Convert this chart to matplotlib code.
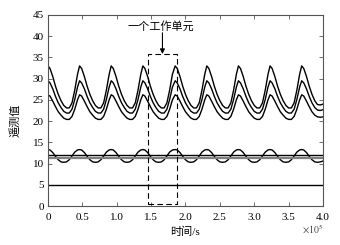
import matplotlib
matplotlib.use("Agg")
import matplotlib.pyplot as plt

# time axis in units of 1e5 s, shared by the four periodic curves
time = [
    0.00, 0.03, 0.07, 0.11, 0.15, 0.19, 0.23, 0.27, 0.31, 0.35, 0.39, 0.43,
    0.46, 0.49, 0.53, 0.57, 0.61, 0.65, 0.69, 0.73, 0.77, 0.81, 0.85, 0.89,
    0.92, 0.95, 0.99, 1.03, 1.07, 1.11, 1.15, 1.19, 1.23, 1.27, 1.31, 1.35,
    1.38, 1.41, 1.45, 1.49, 1.53, 1.57, 1.61, 1.65, 1.69, 1.73, 1.77, 1.81,
    1.85, 1.88, 1.92, 1.96, 2.00, 2.04, 2.08, 2.12, 2.16, 2.20, 2.24, 2.28,
    2.31, 2.34, 2.38, 2.42, 2.46, 2.50, 2.54, 2.58, 2.62, 2.66, 2.70, 2.74,
    2.77, 2.80, 2.84, 2.88, 2.92, 2.96, 3.00, 3.04, 3.08, 3.12, 3.16, 3.20,
    3.23, 3.26, 3.30, 3.34, 3.38, 3.42, 3.46, 3.50, 3.54, 3.58, 3.62, 3.66,
    3.69, 3.72, 3.76, 3.80, 3.84, 3.88, 3.92, 3.96, 4.00,
]

upper = [
    33.0, 32.4, 30.5, 28.2, 26.3, 24.8, 23.7, 23.1, 23.1, 24.3, 27.3, 31.0,
    33.0, 32.4, 30.5, 28.2, 26.3, 24.8, 23.7, 23.1, 23.1, 24.3, 27.3, 31.0,
    33.0, 32.4, 30.5, 28.2, 26.3, 24.8, 23.7, 23.1, 23.1, 24.3, 27.3, 31.0,
    33.0, 32.4, 30.5, 28.2, 26.3, 24.8, 23.7, 23.1, 23.1, 24.3, 27.3, 31.0,
    33.0, 32.4, 30.5, 28.2, 26.3, 24.8, 23.7, 23.1, 23.1, 24.3, 27.3, 31.0,
    33.0, 32.4, 30.5, 28.2, 26.3, 24.8, 23.7, 23.1, 23.1, 24.3, 27.3, 31.0,
    33.0, 32.4, 30.5, 28.2, 26.3, 24.8, 23.7, 23.1, 23.1, 24.3, 27.3, 31.0,
    33.0, 32.4, 30.5, 28.2, 26.3, 24.8, 23.7, 23.1, 23.1, 24.3, 27.3, 31.0,
    33.0, 32.4, 30.5, 28.2, 26.3, 24.8, 23.9, 23.8, 24.0,
]

middle = [
    29.5, 29.0, 27.6, 25.8, 24.3, 23.2, 22.3, 21.9, 21.9, 22.8, 25.1, 28.0,
    29.5, 29.0, 27.6, 25.8, 24.3, 23.2, 22.3, 21.9, 21.9, 22.8, 25.1, 28.0,
    29.5, 29.0, 27.6, 25.8, 24.3, 23.2, 22.3, 21.9, 21.9, 22.8, 25.1, 28.0,
    29.5, 29.0, 27.6, 25.8, 24.3, 23.2, 22.3, 21.9, 21.9, 22.8, 25.1, 28.0,
    29.5, 29.0, 27.6, 25.8, 24.3, 23.2, 22.3, 21.9, 21.9, 22.8, 25.1, 28.0,
    29.5, 29.0, 27.6, 25.8, 24.3, 23.2, 22.3, 21.9, 21.9, 22.8, 25.1, 28.0,
    29.5, 29.0, 27.6, 25.8, 24.3, 23.2, 22.3, 21.9, 21.9, 22.8, 25.1, 28.0,
    29.5, 29.0, 27.6, 25.8, 24.3, 23.2, 22.3, 21.9, 21.9, 22.8, 25.1, 28.0,
    29.5, 29.0, 27.6, 25.8, 24.3, 23.2, 22.6, 22.5, 22.7,
]

lower = [
    26.2, 25.9, 24.7, 23.4, 22.2, 21.4, 20.7, 20.4, 20.4, 21.1, 22.8, 25.0,
    26.2, 25.9, 24.7, 23.4, 22.2, 21.4, 20.7, 20.4, 20.4, 21.1, 22.8, 25.0,
    26.2, 25.9, 24.7, 23.4, 22.2, 21.4, 20.7, 20.4, 20.4, 21.1, 22.8, 25.0,
    26.2, 25.9, 24.7, 23.4, 22.2, 21.4, 20.7, 20.4, 20.4, 21.1, 22.8, 25.0,
    26.2, 25.9, 24.7, 23.4, 22.2, 21.4, 20.7, 20.4, 20.4, 21.1, 22.8, 25.0,
    26.2, 25.9, 24.7, 23.4, 22.2, 21.4, 20.7, 20.4, 20.4, 21.1, 22.8, 25.0,
    26.2, 25.9, 24.7, 23.4, 22.2, 21.4, 20.7, 20.4, 20.4, 21.1, 22.8, 25.0,
    26.2, 25.9, 24.7, 23.4, 22.2, 21.4, 20.7, 20.4, 20.4, 21.1, 22.8, 25.0,
    26.2, 25.9, 24.7, 23.4, 22.2, 21.4, 21.0, 20.9, 21.0,
]

wave = [
    13.3, 13.2, 12.6, 11.7, 10.9, 10.4, 10.3, 10.4, 10.9, 11.8, 12.7, 13.2,
    13.3, 13.2, 12.6, 11.7, 10.9, 10.4, 10.3, 10.4, 10.9, 11.8, 12.7, 13.2,
    13.3, 13.2, 12.6, 11.7, 10.9, 10.4, 10.3, 10.4, 10.9, 11.8, 12.7, 13.2,
    13.3, 13.2, 12.6, 11.7, 10.9, 10.4, 10.3, 10.4, 10.9, 11.8, 12.7, 13.2,
    13.3, 13.2, 12.6, 11.7, 10.9, 10.4, 10.3, 10.4, 10.9, 11.8, 12.7, 13.2,
    13.3, 13.2, 12.6, 11.7, 10.9, 10.4, 10.3, 10.4, 10.9, 11.8, 12.7, 13.2,
    13.3, 13.2, 12.6, 11.7, 10.9, 10.4, 10.3, 10.4, 10.9, 11.8, 12.7, 13.2,
    13.3, 13.2, 12.6, 11.7, 10.9, 10.4, 10.3, 10.4, 10.9, 11.8, 12.7, 13.2,
    13.3, 13.2, 12.6, 11.7, 10.9, 10.4, 10.3, 10.4, 10.6,
]

# constant telemetry levels
flat_t = [0.0, 4.0]
level_high = [12.0, 12.0]
level_mid = [11.2, 11.2]
level_low = [5.0, 5.0]

# one working unit (dashed box)
unit_x = [1.46, 1.87]
unit_y = [0.5, 35.8]

xticks = [0, 0.5, 1.0, 1.5, 2.0, 2.5, 3.0, 3.5, 4.0]
xtick_labels = ["0", "0.5", "1.0", "1.5", "2.0", "2.5", "3.0", "3.5", "4.0"]
yticks = [0, 5, 10, 15, 20, 25, 30, 35, 40, 45]

plt.rcParams['font.family'] = ['Liberation Serif', 'Noto Sans CJK SC']
plt.rcParams['mathtext.fontset'] = 'stix'
plt.rcParams['font.size'] = 8

fig = plt.figure(figsize=(3.4, 2.45), dpi=100)
ax = fig.add_axes([0.141, 0.159, 0.809, 0.78])

for series in (upper, middle, lower, wave):
    ax.plot(time, series, color='black', lw=1.0)

ax.plot(flat_t, level_mid, color='#7f7f7f', lw=1.6)
ax.plot(flat_t, level_high, color='black', lw=1.0)
ax.plot(flat_t, level_low, color='black', lw=1.0)

box_x = [unit_x[0], unit_x[1], unit_x[1], unit_x[0], unit_x[0]]
box_y = [unit_y[0], unit_y[0], unit_y[1], unit_y[1], unit_y[0]]
ax.plot(box_x, box_y, color='black', lw=0.8, ls=(0, (5, 3)))

mid_x = (unit_x[0] + unit_x[1]) / 2
ax.annotate("", xy=(mid_x, unit_y[1]), xytext=(mid_x, 40.8),
            arrowprops=dict(arrowstyle='-|>', color='black', lw=0.8,
                            mutation_scale=7, shrinkA=0, shrinkB=0))
ax.text(mid_x - 0.02, 42.3, "一个工作单元", ha='center', va='center', fontsize=8)

ax.set_xlim(0, 4.0)
ax.set_ylim(0, 45)
ax.set_xticks(xticks)
ax.set_xticklabels(xtick_labels)
ax.set_yticks(yticks)
ax.tick_params(direction='in', top=True, right=True, length=3,
               width=0.6, color='#555555', labelsize=8, pad=3)
ax.tick_params(axis='x', pad=5)
for sp in ax.spines.values():
    sp.set_color('#555555')
    sp.set_linewidth(0.8)

ax.set_xlabel("时间/s", fontsize=8, labelpad=3)
ax.set_ylabel("遥测值", fontsize=8, labelpad=3)
ax.yaxis.set_label_coords(-0.1, 0.45)
fig.text(0.95, 0.065, r"$\times10^5$", ha='right', va='center', fontsize=7,
         color='#444444')

fig.savefig("out.png", dpi=100)
